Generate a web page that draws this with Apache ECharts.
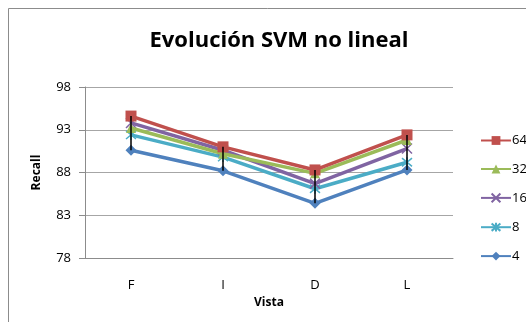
<!DOCTYPE html>
<html>
<head>
<meta charset="utf-8">
<script src="https://cdn.jsdelivr.net/npm/echarts@6/dist/echarts.min.js"></script>
<style>
  html, body { margin: 0; padding: 0; background: #fff; }
  #chart { width: 526px; height: 322px; }
</style>
</head>
<body>
<div id="chart"></div>
<script>
// Recall per view for each SVM setting
const categories = ['F', 'I', 'D', 'L'];
const seriesNames = ['64', '32', '16', '8', '4'];
const recall64 = [94.6, 91.0, 88.3, 92.4];
const recall32 = [93.2, 90.2, 87.9, 91.8];
const recall16 = [93.8, 90.6, 86.7, 90.8];
const recall8 = [92.4, 89.8, 86.1, 89.2];
const recall4 = [90.6, 88.2, 84.4, 88.3];
const yTicks = [78, 83, 88, 93, 98];

const allSeries = [recall64, recall32, recall16, recall8, recall4];
const colors = ['#C0504D', '#9BBB59', '#8064A2', '#4BACC6', '#4F81BD'];
const symbols = [
  'rect',
  'triangle',
  'path://M0,0L10,10M10,0L0,10',
  'path://M0,0L10,10M10,0L0,10M5,-1L5,11',
  'diamond'
];
const symbolSizes = [11, 10, 10, 10, 11];

const font = '"Open Sans", "Liberation Sans", sans-serif';

// high-low range at each category
const ranges = categories.map((c, i) => {
  const vals = allSeries.map(s => s[i]);
  return [i, Math.min(...vals), Math.max(...vals)];
});

const lineSeries = seriesNames.map((name, k) => {
  const isPath = symbols[k].startsWith('path://');
  return {
    name: name,
    type: 'line',
    data: allSeries[k],
    symbol: symbols[k],
    symbolSize: symbolSizes[k],
    showAllSymbol: true,
    z: 10 - k,
    lineStyle: { color: colors[k], width: 3.5 },
    itemStyle: isPath
      ? { color: 'none', borderColor: colors[k], borderWidth: 1.5 }
      : { color: colors[k], borderColor: colors[k], borderWidth: 0 }
  };
}).reverse();

const chart = echarts.init(document.getElementById('chart'), null, { renderer: 'canvas' });
chart.setOption({
  backgroundColor: '#fff',
  animation: false,
  title: {
    text: 'Evolución SVM no lineal',
    left: 274,
    textAlign: 'center',
    top: 25,
    textStyle: { fontFamily: font, fontWeight: 'bold', fontSize: 22, color: '#000' }
  },
  legend: {
    orient: 'vertical',
    left: 475,
    top: 129,
    itemWidth: 30,
    itemHeight: 11,
    itemGap: 15.5,
    data: seriesNames,
    textStyle: { fontFamily: font, fontSize: 13, color: '#000', padding: [0, 0, 0, -4] }
  },
  grid: { left: 85, right: 73, top: 87, bottom: 64 },
  xAxis: {
    type: 'category',
    data: categories,
    boundaryGap: true,
    name: 'Vista',
    nameLocation: 'middle',
    nameGap: 39,
    nameTextStyle: { fontFamily: font, fontWeight: 'bold', fontSize: 12, color: '#000' },
    axisLine: { lineStyle: { color: '#8c8c8c', width: 1 } },
    axisTick: { show: false },
    axisLabel: { fontFamily: font, fontSize: 13, color: '#000', margin: 21 }
  },
  yAxis: {
    type: 'value',
    min: yTicks[0],
    max: yTicks[yTicks.length - 1],
    interval: 5,
    name: 'Recall',
    nameLocation: 'middle',
    nameGap: 42,
    nameTextStyle: { fontFamily: font, fontWeight: 'bold', fontSize: 12, color: '#000' },
    axisLine: { show: true, lineStyle: { color: '#8c8c8c', width: 1 } },
    axisTick: { show: true, length: 6, lineStyle: { color: '#8c8c8c' } },
    splitLine: { lineStyle: { color: '#a6a6a6', width: 1 } },
    axisLabel: { fontFamily: font, fontSize: 13, color: '#000', margin: 14 }
  },
  graphic: [
    { type: 'line', shape: { x1: 8.5, y1: 8.5, x2: 526, y2: 8.5 }, style: { stroke: '#8c8c8c', lineWidth: 1 } },
    { type: 'line', shape: { x1: 8.5, y1: 8.5, x2: 8.5, y2: 322 }, style: { stroke: '#8c8c8c', lineWidth: 1 } }
  ],
  series: lineSeries.concat([{
    type: 'custom',
    name: 'highlow',
    z: 20,
    silent: true,
    data: ranges,
    renderItem: function (params, api) {
      const lo = api.coord([api.value(0), api.value(1)]);
      const hi = api.coord([api.value(0), api.value(2)]);
      return {
        type: 'line',
        shape: { x1: lo[0], y1: lo[1], x2: hi[0], y2: hi[1] },
        style: { stroke: '#000', lineWidth: 1.5 }
      };
    }
  }])
});
</script>
</body>
</html>
